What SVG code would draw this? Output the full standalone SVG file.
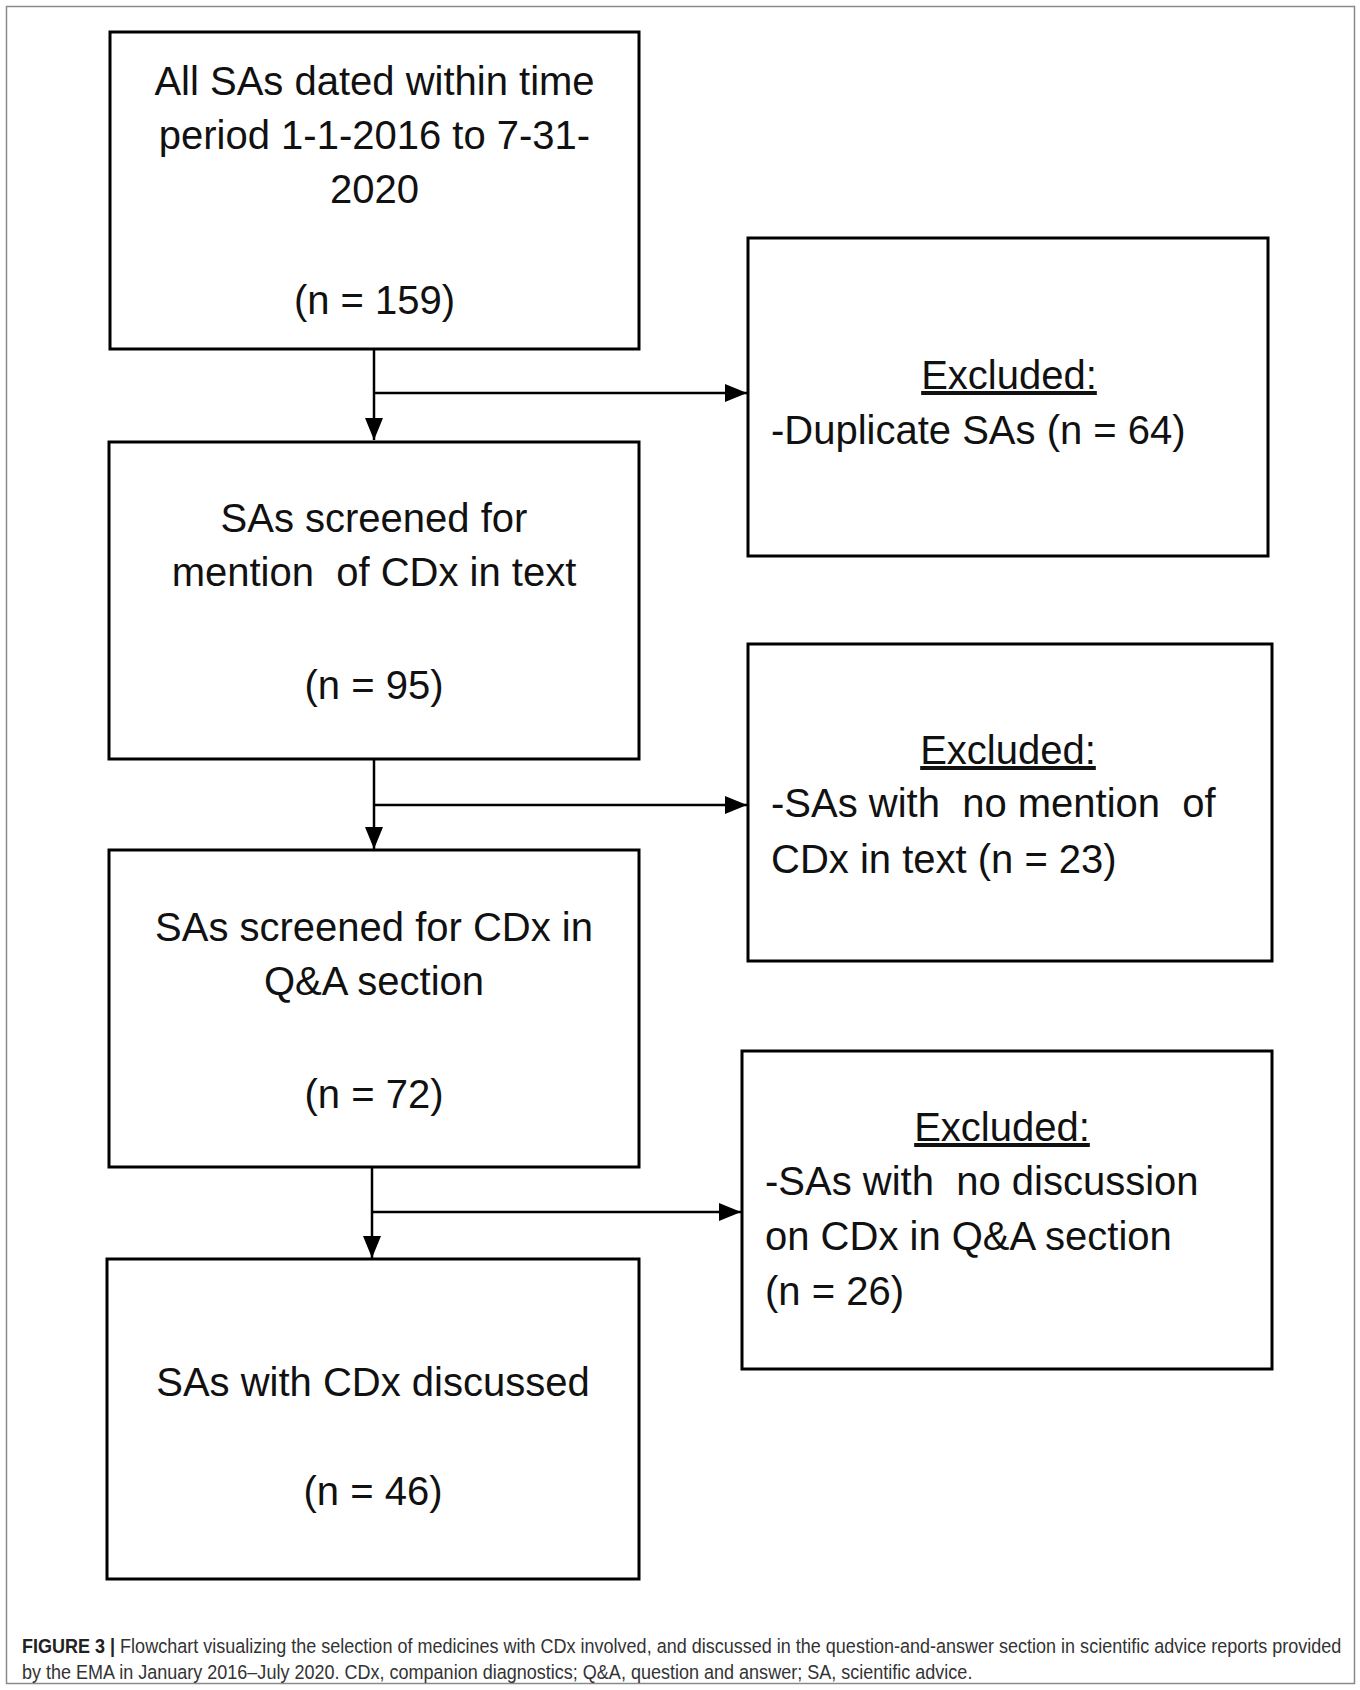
<svg xmlns="http://www.w3.org/2000/svg" width="1360" height="1690" viewBox="0 0 1360 1690">
<style>
.box{fill:#fff;stroke:#000;stroke-width:3}
.t{font-family:"Liberation Sans",Arial,sans-serif;font-size:40px;fill:#111}
.c{text-anchor:middle}
.ln{stroke:#000;stroke-width:2.5;fill:none}
.cap{font-family:"Liberation Sans",Arial,sans-serif;font-size:19.5px;fill:#333}
</style>
<defs>
<marker id="ah" markerWidth="22" markerHeight="18" refX="22" refY="9" orient="auto" markerUnits="userSpaceOnUse">
<path d="M0,0 L22,9 L0,18 Z" fill="#000"/>
</marker>
</defs>
<rect x="6.5" y="6.5" width="1348" height="1677" fill="#fff" stroke="#8a8a8a" stroke-width="1.5"/>
<g id="connectors">
<path class="ln" d="M374,350 V440" marker-end="url(#ah)"/>
<path class="ln" d="M374,393 H747" marker-end="url(#ah)"/>
<path class="ln" d="M374,759 V849" marker-end="url(#ah)"/>
<path class="ln" d="M374,805 H747" marker-end="url(#ah)"/>
<path class="ln" d="M372,1167 V1258" marker-end="url(#ah)"/>
<path class="ln" d="M372,1212 H741" marker-end="url(#ah)"/>
</g>
<g id="n1">
<rect class="box" x="110" y="32" width="529" height="317"/>
<text class="t c" x="374.5" y="95">All SAs dated within time</text>
<text class="t c" x="374.5" y="149">period 1-1-2016 to 7-31-</text>
<text class="t c" x="374.5" y="203">2020</text>
<text class="t c" x="374.5" y="314">(n = 159)</text>
</g>
<g id="e1">
<rect class="box" x="748" y="238" width="520" height="318"/>
<text class="t c" x="1009" y="389" text-decoration="underline">Excluded:</text>
<text class="t" x="771" y="444">-Duplicate SAs (n = 64)</text>
</g>
<g id="n2">
<rect class="box" x="109" y="442" width="530" height="317"/>
<text class="t c" x="374" y="532">SAs screened for</text>
<text class="t c" x="374" y="586" xml:space="preserve">mention  of CDx in text</text>
<text class="t c" x="374" y="699">(n = 95)</text>
</g>
<g id="e2">
<rect class="box" x="748" y="644" width="524" height="317"/>
<text class="t c" x="1008" y="764" text-decoration="underline">Excluded:</text>
<text class="t" x="771" y="817" xml:space="preserve">-SAs with  no mention  of</text>
<text class="t" x="771" y="873">CDx in text (n = 23)</text>
</g>
<g id="n3">
<rect class="box" x="109" y="850" width="530" height="317"/>
<text class="t c" x="374" y="941">SAs screened for CDx in</text>
<text class="t c" x="374" y="995">Q&amp;A section</text>
<text class="t c" x="374" y="1108">(n = 72)</text>
</g>
<g id="e3">
<rect class="box" x="742" y="1051" width="530" height="318"/>
<text class="t c" x="1002" y="1141" text-decoration="underline">Excluded:</text>
<text class="t" x="765" y="1195" xml:space="preserve">-SAs with  no discussion</text>
<text class="t" x="765" y="1250">on CDx in Q&amp;A section</text>
<text class="t" x="765" y="1305">(n = 26)</text>
</g>
<g id="n4">
<rect class="box" x="107" y="1259" width="532" height="320"/>
<text class="t c" x="373" y="1396">SAs with CDx discussed</text>
<text class="t c" x="373" y="1505">(n = 46)</text>
</g>
<g id="caption" transform="translate(22,0) scale(0.9,1)">
<text class="cap" x="0" y="1653" textLength="1466" lengthAdjust="spacingAndGlyphs"><tspan font-weight="bold" fill="#222">FIGURE 3 |</tspan> Flowchart visualizing the selection of medicines with CDx involved, and discussed in the question-and-answer section in scientific advice reports provided</text>
<text class="cap" x="0" y="1679" textLength="1056" lengthAdjust="spacingAndGlyphs">by the EMA in January 2016–July 2020. CDx, companion diagnostics; Q&amp;A, question and answer; SA, scientific advice.</text>
</g>
</svg>
